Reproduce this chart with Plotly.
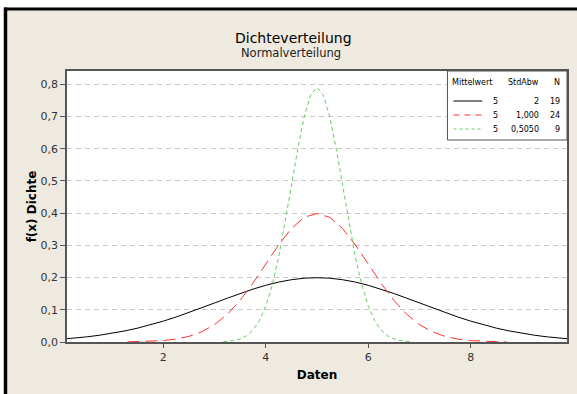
import plotly.graph_objects as go

# ---- data ----
x_sd2 = [0.12, 0.25, 0.5, 0.75, 1.0, 1.25, 1.5, 1.75, 2.0, 2.25, 2.5, 2.75, 3.0, 3.25, 3.5, 3.75, 4.0, 4.25, 4.5, 4.75,
         5.0, 5.25, 5.5, 5.75, 6.0, 6.25, 6.5, 6.75, 7.0, 7.25, 7.5, 7.75, 8.0, 8.25, 8.5, 8.75, 9.0, 9.25, 9.5, 9.75, 9.88]
y_sd2 = [0.0102, 0.0119, 0.0159, 0.0209, 0.0270, 0.0344, 0.0431, 0.0533, 0.0648, 0.0775, 0.0913, 0.1059, 0.1210, 0.1360, 0.1506, 0.1641, 0.1760, 0.1859, 0.1933, 0.1979,
         0.1995, 0.1979, 0.1933, 0.1859, 0.1760, 0.1641, 0.1506, 0.1360, 0.1210, 0.1059, 0.0913, 0.0775, 0.0648, 0.0533, 0.0431, 0.0344, 0.0270, 0.0209, 0.0159, 0.0119, 0.0102]

x_sd1 = [1.3, 1.5, 1.75, 2.0, 2.25, 2.5, 2.75, 3.0, 3.25, 3.5, 3.75, 4.0, 4.25, 4.5, 4.75,
         5.0, 5.25, 5.5, 5.75, 6.0, 6.25, 6.5, 6.75, 7.0, 7.25, 7.5, 7.75, 8.0, 8.25, 8.5, 8.7]
y_sd1 = [0.0004, 0.0009, 0.0020, 0.0044, 0.0091, 0.0175, 0.0317, 0.0540, 0.0863, 0.1295, 0.1826, 0.2420, 0.3011, 0.3521, 0.3867,
         0.3989, 0.3867, 0.3521, 0.3011, 0.2420, 0.1826, 0.1295, 0.0863, 0.0540, 0.0317, 0.0175, 0.0091, 0.0044, 0.0020, 0.0009, 0.0004]

x_sd05 = [3.17, 3.25, 3.375, 3.5, 3.625, 3.75, 3.875, 4.0, 4.125, 4.25, 4.375, 4.5, 4.625, 4.75, 4.875,
          5.0, 5.125, 5.25, 5.375, 5.5, 5.625, 5.75, 5.875, 6.0, 6.125, 6.25, 6.375, 6.5, 6.625, 6.75, 6.83]
y_sd05 = [0.0011, 0.0020, 0.0045, 0.0096, 0.0194, 0.0369, 0.0661, 0.1112, 0.1761, 0.2622, 0.3673, 0.4839, 0.5996, 0.6989, 0.7661,
          0.7900, 0.7661, 0.6989, 0.5996, 0.4839, 0.3673, 0.2622, 0.1761, 0.1112, 0.0661, 0.0369, 0.0194, 0.0096, 0.0045, 0.0020, 0.0011]

legend_mean = ["5", "5", "5"]
legend_sd = ["2", "1,000", "0,5050"]
legend_n = ["19", "24", "9"]

x_ticks = [2, 4, 6, 8]
y_ticks = [0.0, 0.1, 0.2, 0.3, 0.4, 0.5, 0.6, 0.7, 0.8]
y_tick_labels = ["0,0", "0,1", "0,2", "0,3", "0,4", "0,5", "0,6", "0,7", "0,8"]

BG = "#EEEAE0"
FONT = "DejaVu Sans"

fig = go.Figure()
fig.add_trace(go.Scatter(x=x_sd2, y=y_sd2, mode="lines", line=dict(color="black", width=1), showlegend=False))
fig.add_trace(go.Scatter(x=x_sd1, y=y_sd1, mode="lines", line=dict(color="#FF3030", width=1, dash="12px,6px"), showlegend=False))
fig.add_trace(go.Scatter(x=x_sd05, y=y_sd05, mode="lines", line=dict(color="#66CC66", width=1, dash="4px,3px"), showlegend=False))

# plot geometry in pixels
W, H = 577, 394
L, R, T, B = 67, 8, 71, 52
pw, ph = W - L - R, H - T - B

def px(xp):
    return (xp - L) / pw

def py(yp):
    return (H - B - yp) / ph

shapes = []
# white strips and black frame lines at top/left
shapes.append(dict(type="rect", xref="paper", yref="paper", x0=px(-5), x1=px(W + 5), y0=py(8), y1=py(-5),
                   fillcolor="white", line=dict(width=0), layer="below"))
shapes.append(dict(type="rect", xref="paper", yref="paper", x0=px(-5), x1=px(4), y0=py(H + 5), y1=py(-5),
                   fillcolor="white", line=dict(width=0), layer="below"))
shapes.append(dict(type="rect", xref="paper", yref="paper", x0=px(4), x1=px(W + 5), y0=py(10.5), y1=py(7.5),
                   fillcolor="black", line=dict(width=0), layer="below"))
shapes.append(dict(type="rect", xref="paper", yref="paper", x0=px(3.5), x1=px(7), y0=py(H + 5), y1=py(7.5),
                   fillcolor="black", line=dict(width=0), layer="below"))

# legend box
lx0, lx1, ly0, ly1 = 449, 569, 71, 140
shapes.append(dict(type="rect", xref="paper", yref="paper", x0=px(lx0), x1=px(lx1), y0=py(ly1), y1=py(ly0),
                   fillcolor="white", line=dict(color="#555555", width=1), layer="above"))

annotations = []
fs = 8
header_y = 83
annotations += [
    dict(text="Mittelwert", x=px(496), y=py(header_y), xanchor="right"),
    dict(text="StdAbw", x=px(543), y=py(header_y), xanchor="right"),
    dict(text="N", x=px(564), y=py(header_y), xanchor="right"),
]
row_y = [101, 115, 129]
styles = [dict(color="black", dash="solid"), dict(color="#FF3030", dash="6px,5px"), dict(color="#66CC66", dash="3px,3px")]
for i in range(3):
    annotations += [
        dict(text=legend_mean[i], x=px(502), y=py(row_y[i]), xanchor="right"),
        dict(text=legend_sd[i], x=px(543), y=py(row_y[i]), xanchor="right"),
        dict(text=legend_n[i], x=px(564), y=py(row_y[i]), xanchor="right"),
    ]
    shapes.append(dict(type="line", xref="paper", yref="paper", x0=px(455), x1=px(484), y0=py(row_y[i]), y1=py(row_y[i]),
                       line=dict(color=styles[i]["color"], width=1, dash=styles[i]["dash"]), layer="above"))
for a in annotations:
    a.update(xref="paper", yref="paper", yanchor="middle", showarrow=False, font=dict(family=FONT, size=fs, color="black"))

# titles
annotations.append(dict(text="Dichteverteilung", xref="paper", yref="paper", x=px(294), y=py(38), showarrow=False,
                        xanchor="center", yanchor="middle", font=dict(family=FONT, size=14, color="black")))
annotations.append(dict(text="Normalverteilung", xref="paper", yref="paper", x=px(292), y=py(53), showarrow=False,
                        xanchor="center", yanchor="middle", font=dict(family=FONT, size=11.5, color="#222222")))

fig.update_layout(
    width=W, height=H,
    margin=dict(l=L, r=R, t=T, b=B, pad=0),
    paper_bgcolor=BG, plot_bgcolor="white",
    shapes=shapes, annotations=annotations,
    font=dict(family=FONT, size=11, color="#333333"),
    showlegend=False,
)
fig.update_xaxes(
    range=[0.12, 9.88], tickvals=x_ticks, ticktext=[str(v) for v in x_ticks],
    showgrid=False, zeroline=False, showline=True, linecolor="#555555", linewidth=1.5, mirror=True,
    ticks="outside", ticklen=4, tickcolor="#555555",
    title=dict(text="<b>Daten</b>", font=dict(family=FONT, size=12, color="black"), standoff=8),
    tickfont=dict(family=FONT, size=11, color="#333333"),
)
fig.update_yaxes(
    range=[0, 0.841], tickvals=y_ticks, ticktext=y_tick_labels,
    showgrid=True, gridcolor="#C8C8C8", griddash="5px,4px", gridwidth=1,
    zeroline=False, showline=True, linecolor="#555555", linewidth=1.5, mirror=True,
    ticks="outside", ticklen=5, tickcolor="#555555",
    title=dict(text="<b>f(x) Dichte</b>", font=dict(family=FONT, size=12, color="black"), standoff=1),
    tickfont=dict(family=FONT, size=11, color="#333333"),
)

fig.write_html("out.html")
